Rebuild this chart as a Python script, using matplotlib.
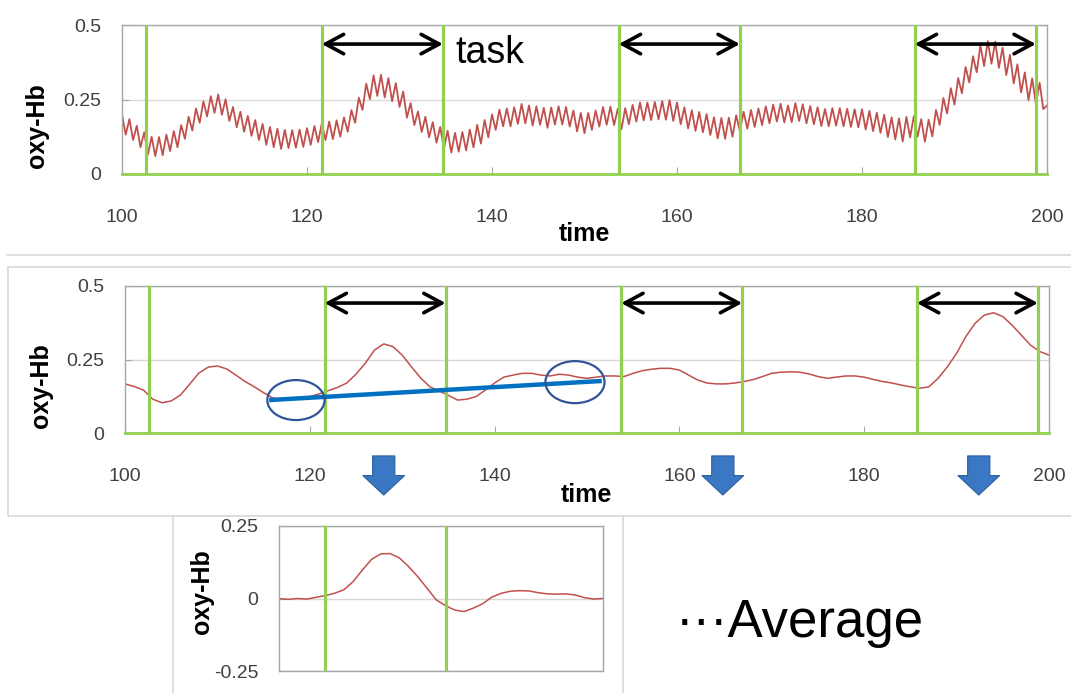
import matplotlib.pyplot as plt
import numpy as np
from matplotlib.patches import Ellipse, Rectangle, FancyArrowPatch, ArrowStyle
from matplotlib.lines import Line2D

plt.rcParams['font.family'] = ['Liberation Sans', 'DejaVu Sans']
plt.rcParams['axes.unicode_minus'] = False

# raw oxy-Hb trace (one value every 0.4 s, t = 100 .. 200)
raw_hb = [
    0.200, 0.132, 0.184, 0.114, 0.162, 0.090, 0.140, 0.065, 0.125, 0.060,
    0.124, 0.063, 0.132, 0.077, 0.144, 0.090, 0.164, 0.118, 0.192, 0.146,
    0.220, 0.172, 0.244, 0.193, 0.261, 0.205, 0.267, 0.199, 0.251, 0.178,
    0.225, 0.157, 0.209, 0.142, 0.195, 0.128, 0.181, 0.114, 0.168, 0.098,
    0.158, 0.090, 0.152, 0.084, 0.148, 0.087, 0.147, 0.088, 0.149, 0.091,
    0.154, 0.098, 0.161, 0.107, 0.170, 0.114, 0.176, 0.117, 0.180, 0.125,
    0.190, 0.142, 0.214, 0.172, 0.256, 0.215, 0.303, 0.251, 0.331, 0.262,
    0.333, 0.257, 0.322, 0.244, 0.305, 0.225, 0.277, 0.189, 0.238, 0.164,
    0.210, 0.141, 0.192, 0.123, 0.174, 0.105, 0.158, 0.086, 0.145, 0.072,
    0.138, 0.075, 0.141, 0.079, 0.149, 0.089, 0.165, 0.102, 0.181, 0.123,
    0.200, 0.148, 0.216, 0.160, 0.220, 0.160, 0.224, 0.168, 0.235, 0.170,
    0.230, 0.163, 0.227, 0.165, 0.222, 0.155, 0.223, 0.166, 0.227, 0.166,
    0.225, 0.159, 0.213, 0.143, 0.205, 0.137, 0.205, 0.148, 0.213, 0.159,
    0.225, 0.165, 0.226, 0.164, 0.219, 0.150, 0.221, 0.167, 0.232, 0.176,
    0.240, 0.180, 0.240, 0.181, 0.242, 0.183, 0.245, 0.182, 0.248, 0.178,
    0.240, 0.167, 0.224, 0.153, 0.214, 0.145, 0.208, 0.140, 0.201, 0.131,
    0.190, 0.119, 0.188, 0.118, 0.189, 0.125, 0.197, 0.144, 0.209, 0.152,
    0.215, 0.158, 0.220, 0.164, 0.227, 0.170, 0.233, 0.176, 0.236, 0.173,
    0.230, 0.174, 0.238, 0.178, 0.234, 0.170, 0.228, 0.167, 0.224, 0.161,
    0.218, 0.160, 0.221, 0.162, 0.221, 0.160, 0.219, 0.158, 0.217, 0.157,
    0.217, 0.149, 0.212, 0.144, 0.206, 0.138, 0.199, 0.124, 0.190, 0.116,
    0.187, 0.109, 0.192, 0.123, 0.194, 0.125, 0.184, 0.108, 0.182, 0.126,
    0.215, 0.165, 0.255, 0.203, 0.288, 0.233, 0.322, 0.271, 0.359, 0.307,
    0.395, 0.341, 0.432, 0.362, 0.446, 0.370, 0.444, 0.356, 0.424, 0.332,
    0.400, 0.304, 0.368, 0.274, 0.341, 0.248, 0.321, 0.234, 0.306, 0.218,
    0.230,
]

# low-pass filtered trace (one value per second, t = 100 .. 200)
smooth_hb = [
    0.167, 0.158, 0.146, 0.115, 0.103, 0.109, 0.129, 0.166, 0.204, 0.224,
    0.228, 0.218, 0.197, 0.175, 0.157, 0.137, 0.119, 0.114, 0.115, 0.118,
    0.124, 0.133, 0.144, 0.155, 0.170, 0.200, 0.237, 0.282, 0.303, 0.294,
    0.265, 0.225, 0.187, 0.157, 0.143, 0.128, 0.112, 0.115, 0.124, 0.146,
    0.170, 0.190, 0.197, 0.203, 0.203, 0.197, 0.194, 0.200, 0.197, 0.190,
    0.186, 0.190, 0.194, 0.194, 0.192, 0.203, 0.212, 0.217, 0.220, 0.220,
    0.214, 0.197, 0.180, 0.170, 0.167, 0.167, 0.170, 0.175, 0.182, 0.192,
    0.203, 0.207, 0.208, 0.207, 0.201, 0.192, 0.186, 0.190, 0.194, 0.194,
    0.190, 0.182, 0.175, 0.170, 0.163, 0.157, 0.152, 0.157, 0.186, 0.225,
    0.271, 0.328, 0.373, 0.401, 0.409, 0.396, 0.367, 0.333, 0.299, 0.277,
    0.265,
]
smooth_time = list(range(100, 201))

# block average around task onset
avg_time = list(range(-5, 31))
avg_hb = [
    0.000, -0.003, 0.000, -0.002, 0.004, 0.010, 0.018, 0.030, 0.058, 0.098,
    0.135, 0.154, 0.155, 0.140, 0.110, 0.075, 0.035, -0.005, -0.025, -0.040,
    -0.045, -0.033, -0.018, 0.005, 0.018, 0.025, 0.027, 0.026, 0.020, 0.016,
    0.015, 0.016, 0.012, 0.003, -0.002, 0.000,
]

marker_times = [102.6, 121.6, 134.7, 153.7, 166.8, 185.7, 198.8]
task_blocks = [(121.6, 134.7), (153.7, 166.8), (185.7, 198.8)]
avg_task = [0, 13]
time_ticks = [100, 120, 140, 160, 180, 200]

drift_start = (115.6, 0.112)
drift_end = (151.6, 0.177)
circled = [(118.5, 0.112), (148.7, 0.173)]
down_arrow_times = [128.0, 164.7, 192.4]

RED = '#c0504d'
GREEN = '#92d050'
FRAME = '#a6a6a6'
GRID = '#d9d9d9'
TICKTXT = '#404040'
W, H = 1071, 693

fig = plt.figure(figsize=(W / 100, H / 100), dpi=100)


def fig_box(x0, y0, x1, y1):
    # pixel box (top-left origin) -> figure fraction rect
    return (x0 / W, 1 - y1 / H), (x1 - x0) / W, (y1 - y0) / H


# slide frames behind the charts
fig.add_artist(Line2D([7 / W, 1], [1 - 255 / H] * 2, color=GRID, lw=1.2, zorder=-3))
xy, w, h = fig_box(8, 267, 1090, 516)
fig.add_artist(Rectangle(xy, w, h, fill=False, ec=GRID, lw=1.2, zorder=-3))
xy, w, h = fig_box(173, 516, 623, 720)
fig.add_artist(Rectangle(xy, w, h, fc='white', ec=GRID, lw=1.2, zorder=-2))


def style_axes(ax, ylim, yticks, ylabels, green_floor=True):
    ax.set_ylim(*ylim)
    ax.set_yticks(yticks)
    ax.set_yticklabels(ylabels)
    for side in ['top', 'left', 'right', 'bottom']:
        ax.spines[side].set_color(FRAME)
        ax.spines[side].set_linewidth(1)
    if green_floor:
        ax.spines['bottom'].set_color(GREEN)
        ax.spines['bottom'].set_linewidth(2)
    ax.tick_params(axis='y', direction='in', length=5, color=FRAME,
                   labelsize=14, labelcolor=TICKTXT, pad=15)
    ax.grid(axis='y', color=GRID, lw=1)
    ax.set_axisbelow(True)


def style_time_axis(ax):
    ax.set_xlim(100, 200)
    ax.set_xticks(time_ticks)
    ax.set_xticklabels([str(t) for t in time_ticks])
    ax.tick_params(axis='x', direction='in', length=5, color=FRAME,
                   labelsize=14, labelcolor=TICKTXT, pad=25)


def task_arrows(ax, y):
    for t0, t1 in task_blocks:
        ax.add_patch(FancyArrowPatch(
            (t0, y), (t1, y),
            arrowstyle=ArrowStyle('<->', head_length=13, head_width=7),
            mutation_scale=1, lw=2.6, color='black',
            shrinkA=0, shrinkB=0, zorder=5))


# --- raw signal ---
ax1 = fig.add_axes([122 / W, 1 - 174 / H, 925 / W, 149 / H])
raw_time = np.linspace(100, 200, len(raw_hb))
ax1.plot(raw_time, raw_hb, color=RED, lw=1.3, zorder=2)
for t in marker_times:
    ax1.axvline(t, color=GREEN, lw=2.3, zorder=3)
style_axes(ax1, (0, 0.5), [0, 0.25, 0.5], ['0', '0.25', '0.5'])
style_time_axis(ax1)
task_arrows(ax1, 0.436)
ax1.text(136.0, 0.372, 'task', fontsize=27, va='baseline', ha='left')
ax1.text(-0.092, 0.322, 'oxy-Hb', transform=ax1.transAxes, rotation=90,
         ha='center', va='center', fontsize=18, fontweight='bold')
ax1.text(0.5, -0.322, 'time', transform=ax1.transAxes, ha='center', va='top',
         fontsize=18, fontweight='bold')

# --- filtered signal with baseline drift ---
ax2 = fig.add_axes([125 / W, 1 - 433 / H, 924 / W, 147 / H])
ax2.plot(smooth_time, smooth_hb, color=RED, lw=1.1, zorder=2)
for t in marker_times:
    ax2.axvline(t, color=GREEN, lw=2.3, zorder=3)
style_axes(ax2, (0, 0.5), [0, 0.25, 0.5], ['0', '0.25', '0.5'])
style_time_axis(ax2)
task_arrows(ax2, 0.442)
ax2.plot([drift_start[0], drift_end[0]], [drift_start[1], drift_end[1]],
         color='#0070c0', lw=3.2, solid_capstyle='butt', zorder=4)
for (cx, cy), (ew, eh) in zip(circled, [(6.2, 0.136), (6.4, 0.143)]):
    ax2.add_patch(Ellipse((cx, cy), ew, eh, fill=False, ec='#2f5597',
                          lw=1.6, zorder=5))
ax2.text(-0.091, 0.32, 'oxy-Hb', transform=ax2.transAxes, rotation=90,
         ha='center', va='center', fontsize=18, fontweight='bold')
ax2.text(0.499, -0.34, 'time', transform=ax2.transAxes, ha='center', va='top',
         fontsize=18, fontweight='bold')
for t in down_arrow_times:
    ax2.annotate('', xy=(t, -0.422), xytext=(t, -0.156),
                 xycoords=('data', 'axes fraction'),
                 textcoords=('data', 'axes fraction'),
                 arrowprops=dict(arrowstyle='simple,head_length=14,head_width=30,tail_width=16',
                                 mutation_scale=1, fc='#3a78c4', ec='#2c5e9c',
                                 lw=0.8, shrinkA=0, shrinkB=0),
                 annotation_clip=False)

# --- averaged response ---
ax3 = fig.add_axes([279 / W, 1 - 671 / H, 324 / W, 145 / H])
ax3.plot(avg_time, avg_hb, color=RED, lw=1.1, zorder=2)
for t in avg_task:
    ax3.axvline(t, color=GREEN, lw=2.3, zorder=3)
ax3.set_xlim(-5, 30)
ax3.set_xticks([])
style_axes(ax3, (-0.25, 0.25), [-0.25, 0, 0.25], ['-0.25', '0', '0.25'],
           green_floor=False)
ax3.text(-0.238, 0.545, 'oxy-Hb', transform=ax3.transAxes, rotation=90,
         ha='center', va='center', fontsize=18, fontweight='bold')

fig.text(676 / W, 1 - 637 / H, '\u00b7\u00b7\u00b7Average', fontsize=38,
         ha='left', va='baseline')

fig.savefig('out.png', dpi=100)
